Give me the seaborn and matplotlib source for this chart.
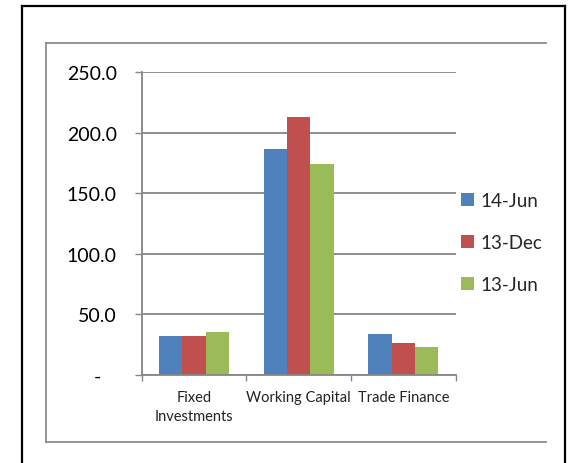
import matplotlib
matplotlib.use("Agg")
import matplotlib.pyplot as plt
import seaborn as sns
import pandas as pd
from matplotlib.lines import Line2D
from matplotlib.patches import Patch
from matplotlib.ticker import FixedLocator

categories = ["Fixed\nInvestments", "Working Capital", "Trade Finance"]
series = ["14-Jun", "13-Dec", "13-Jun"]
vals_14jun = [32.2, 186.6, 33.6]
vals_13dec = [32.2, 213.3, 26.2]
vals_13jun = [35.3, 174.2, 23.0]
colors = ["#4F81BD", "#C0504D", "#9BBB59"]
ytick_vals = [0, 50, 100, 150, 200, 250]
ytick_labels = ["-   ", "50.0", "100.0", "150.0", "200.0", "250.0"]

rows = []
for s, vals in zip(series, [vals_14jun, vals_13dec, vals_13jun]):
    for c, v in zip(categories, vals):
        rows.append({"category": c, "series": s, "value": v})
df = pd.DataFrame(rows)

sns.set_theme(style="white")
plt.rcParams["font.family"] = ["Lato", "DejaVu Sans"]

W, H = 569, 464
fig = plt.figure(figsize=(W / 100, H / 100), dpi=100)
ax = fig.add_axes([141.7 / W, 1 - 375.7 / H, (455.7 - 141.7) / W, (375.7 - 73.3) / H])

sns.barplot(data=df, x="category", y="value", hue="series", order=categories,
            hue_order=series, palette=colors, saturation=1, width=0.667,
            ax=ax, legend=False, linewidth=0)

gray = "#868686"
ax.set_xlim(-0.5, 2.5)
ax.set_ylim(0, 250)
ax.set_yticks(ytick_vals)
ax.set_yticklabels(ytick_labels)
ax.yaxis.grid(True, color=gray, linewidth=1.3)
ax.set_axisbelow(True)
ax.set_xlabel("")
ax.set_ylabel("")
for side in ["top", "right"]:
    ax.spines[side].set_visible(False)
for side in ["left", "bottom"]:
    ax.spines[side].set_color(gray)
    ax.spines[side].set_linewidth(1.3)

ax.tick_params(axis="y", which="major", length=4.7, width=1.0, color=gray,
               pad=13.2, labelsize=14, labelcolor="black", left=True)
ax.tick_params(axis="x", which="major", length=0, pad=11, labelsize=10.5,
               labelcolor="#222222")
ax.xaxis.set_minor_locator(FixedLocator([-0.5, 0.5, 1.5, 2.5]))
ax.tick_params(axis="x", which="minor", length=4, width=1.0, color=gray,
               bottom=True)
for lbl in ax.get_xticklabels():
    lbl.set_linespacing(1.45)

handles = [Patch(facecolor=c, edgecolor="none") for c in colors]
fig.legend(handles, series, loc="center left",
           bbox_to_anchor=(461.0 / W, 1 - 243.5 / H), bbox_transform=fig.transFigure,
           frameon=False, fontsize=13.5, handlelength=0.68, handleheight=0.68,
           handletextpad=0.33, labelspacing=1.35, borderpad=0, borderaxespad=0)

def px_line(x0, y0, x1, y1, color, lw):
    fig.add_artist(Line2D([x0 / W, x1 / W], [1 - y0 / H, 1 - y1 / H],
                          transform=fig.transFigure, color=color, linewidth=lw,
                          solid_capstyle="projecting"))

# outer black frame
px_line(22, 7, 565, 7, "black", 1.6)
px_line(22, 7, 22, H + 2, "black", 1.6)
px_line(565, 7, 565, H + 2, "black", 1.6)
# inner gray frame
px_line(46.5, 44, 546, 44, "#8c8c8c", 1.3)
px_line(46.5, 44, 46.5, 442.5, "#8c8c8c", 1.3)
px_line(46.5, 442.5, 546, 442.5, "#8c8c8c", 1.3)

fig.savefig("out.png", dpi=100)
